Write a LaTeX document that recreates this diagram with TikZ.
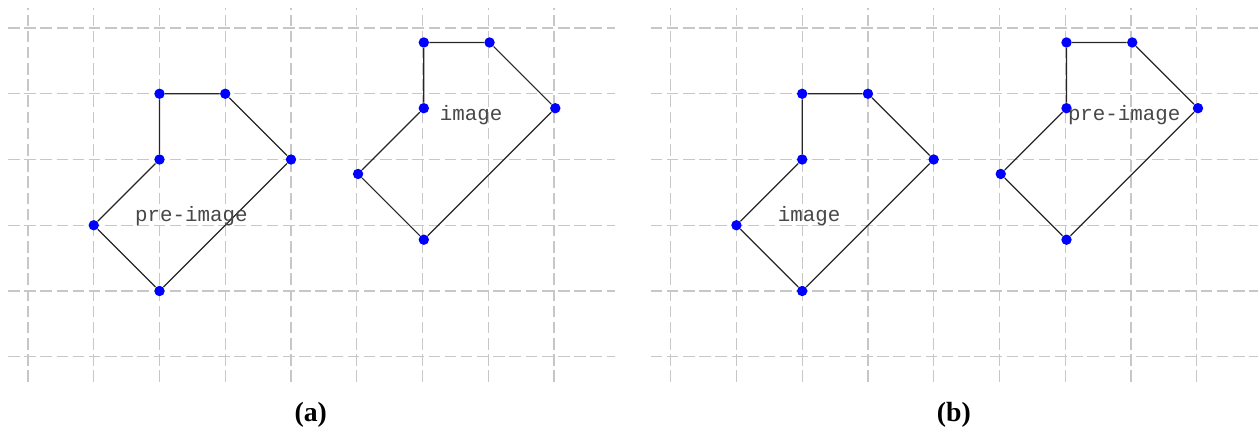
\documentclass[tikz,border=0pt]{standalone}
\usepackage{fontspec}
\setmainfont{Liberation Serif}
\setmonofont{Liberation Mono}
\usetikzlibrary{backgrounds}
\newcommand{\gridat}[1]{%
  \begin{scope}[xshift=#1cm]
    \foreach \j in {0,...,5} \draw[gridline] (-0.304,\j) -- (8.93,\j);
    \foreach \k in {0,...,8} \draw[gridline] (\k,-0.384) -- (\k,5.304);
  \end{scope}}
\newcommand{\shapeat}[3]{%
  \begin{scope}[shift={(#2,#3)}]
    \node[vtx] (#1a) at (2,4) {};
    \node[vtx] (#1b) at (3,4) {};
    \node[vtx] (#1c) at (4,3) {};
    \node[vtx] (#1d) at (2,1) {};
    \node[vtx] (#1e) at (1,2) {};
    \node[vtx] (#1f) at (2,3) {};
  \end{scope}
  \begin{scope}[on background layer]
    \draw[edge] (#1a) -- (#1b) -- (#1c) -- (#1d) -- (#1e) -- (#1f) -- (#1a);
  \end{scope}}
\begin{document}
\begin{tikzpicture}[x=1cm,y=1cm,
  gridline/.style={draw=black!22, line width=0.55pt, dash pattern=on 5pt off 2pt},
  edge/.style={draw=black!85, line width=0.5pt},
  vtx/.style={circle, fill=blue, draw=none, inner sep=0pt, minimum size=4.5pt},
  lbl/.style={font=\ttfamily\fontsize{9}{10}\selectfont, text=black!72, anchor=base, inner sep=0pt},
  captext/.style={font=\bfseries\fontsize{12}{14}\selectfont, anchor=base, inner sep=0pt}]
\useasboundingbox (-0.4259,-1.1445) rectangle (18.738,5.4259);
\begin{scope}[on background layer]
  \gridat{0}
  \gridat{9.775}
\end{scope}
% panel (a)
\shapeat{p}{0}{0}
\shapeat{q}{4.02}{0.78}
\node[lbl] (lp) at (2.485,2.054) {pre-image};
\node[lbl] (lq) at (6.74,3.60) {image};
\node[captext] (ca) at (4.30,-0.985) {(a)};
% panel (b)
\shapeat{r}{9.775}{0}
\shapeat{s}{13.795}{0.78}
\node[lbl] (lr) at (11.881,2.054) {image};
\node[lbl] (ls) at (16.672,3.60) {pre-image};
\node[captext] (cb) at (14.082,-0.985) {(b)};
\end{tikzpicture}
\end{document}
